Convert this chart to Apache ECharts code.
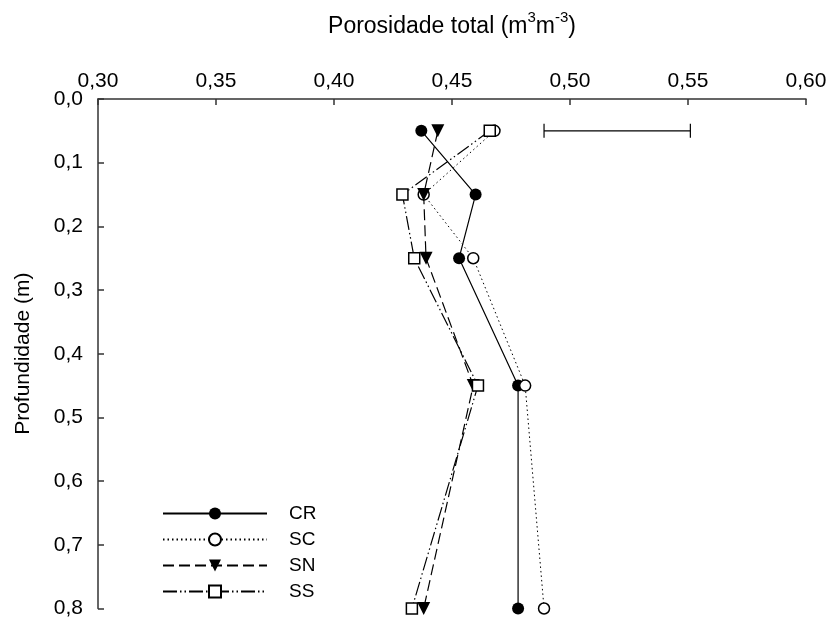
<!DOCTYPE html>
<html>
<head>
<meta charset="utf-8">
<script src="https://cdn.jsdelivr.net/npm/echarts@6/dist/echarts.min.js"></script>
<style>html,body{margin:0;padding:0;background:#fff}#c{width:834px;height:619px}</style>
</head>
<body>
<div id="c"></div>
<script>
var depths = [0.05, 0.15, 0.25, 0.45, 0.80];
var CR = [0.437, 0.460, 0.453, 0.478, 0.478];
var SC = [0.468, 0.438, 0.459, 0.481, 0.489];
var SN = [0.444, 0.438, 0.439, 0.459, 0.438];
var SS = [0.466, 0.429, 0.434, 0.461, 0.433];
var errorBar = [0.05, 0.489, 0.551]; // depth, low, high
var xTicks = {min: 0.30, max: 0.60, interval: 0.05};
var yTicks = {min: 0.0, max: 0.8, interval: 0.1};

function pairs(vals) { return vals.map(function (v, i) { return [v, depths[i]]; }); }

var FONT = 'Liberation Sans';
var chart = echarts.init(document.getElementById('c'), null, {renderer: 'canvas'});

function lineSeries(name, vals, lineType, symbol, filled, size, rotate) {
  return {
    name: name,
    type: 'line',
    data: pairs(vals),
    symbol: symbol,
    symbolSize: size,
    symbolRotate: rotate || 0,
    showSymbol: true,
    lineStyle: {color: '#000', width: lineType === 'dotted' ? 1 : 1.2, type: lineType === 'dotted' ? [1.5, 3] : lineType},
    itemStyle: {color: filled ? '#000' : '#fff', borderColor: '#000', borderWidth: filled ? 0 : 1.5},
    emphasis: {disabled: true},
    z: 3
  };
}

var option = {
  animation: false,
  backgroundColor: '#fff',
  grid: {left: 98, top: 99, right: 28, bottom: 10, containLabel: false},
  legend: {
    orient: 'vertical',
    left: 162,
    top: 504,
    padding: 0,
    itemWidth: 104,
    itemHeight: 15,
    itemGap: 7,
    selectedMode: false,
    textStyle: {fontFamily: FONT, fontSize: 19, lineHeight: 18, color: '#000', padding: [0, 0, 0, 17]},
    data: ['CR', 'SC', 'SN', 'SS']
  },
  xAxis: {
    type: 'value',
    position: 'top',
    min: xTicks.min, max: xTicks.max, interval: xTicks.interval,
    name: 'Porosidade total (m{sup|3}m{sup|-3})',
    nameLocation: 'middle',
    nameGap: 55,
    nameTextStyle: {
      fontFamily: FONT, fontSize: 23, color: '#000', lineHeight: 34,
      rich: {sup: {fontFamily: FONT, fontSize: 15, color: '#000', verticalAlign: 'top', lineHeight: 18}}
    },
    axisLine: {show: true, lineStyle: {color: '#333', width: 1.5}},
    axisTick: {show: true, inside: true, length: 6, lineStyle: {color: '#333', width: 1.5}},
    axisLabel: {fontFamily: FONT, fontSize: 21, color: '#000', margin: 7,
      formatter: function (v) { return v.toFixed(2).replace('.', ','); }},
    splitLine: {show: false}
  },
  yAxis: {
    type: 'value',
    inverse: true,
    min: yTicks.min, max: yTicks.max, interval: yTicks.interval,
    name: 'Profundidade (m)',
    nameLocation: 'middle',
    nameGap: 64,
    nameRotate: 90,
    nameTextStyle: {fontFamily: FONT, fontSize: 21, color: '#000'},
    axisLine: {show: true, lineStyle: {color: '#333', width: 1.5}},
    axisTick: {show: true, inside: true, length: 6, lineStyle: {color: '#333', width: 1.5}},
    axisLabel: {fontFamily: FONT, fontSize: 21, color: '#000', margin: 15,
      formatter: function (v) { return v.toFixed(1).replace('.', ','); }},
    splitLine: {show: false}
  },
  series: [
    lineSeries('CR', CR, 'solid', 'circle', true, 12),
    lineSeries('SC', SC, 'dotted', 'circle', false, 11),
    lineSeries('SN', SN, [11, 5], 'triangle', true, 13, 180),
    lineSeries('SS', SS, [14, 3, 1.5, 3, 1.5, 3], 'rect', false, 11),
    {
      type: 'custom',
      name: 'err',
      data: [[errorBar[1], errorBar[0], errorBar[2]]],
      renderItem: function (params, api) {
        var p1 = api.coord([api.value(0), api.value(1)]);
        var p2 = api.coord([api.value(2), api.value(1)]);
        var h = 7;
        var st = {stroke: '#000', lineWidth: 1.2};
        return {
          type: 'group',
          children: [
            {type: 'line', shape: {x1: p1[0], y1: p1[1], x2: p2[0], y2: p2[1]}, style: st},
            {type: 'line', shape: {x1: p1[0], y1: p1[1] - h, x2: p1[0], y2: p1[1] + h}, style: st},
            {type: 'line', shape: {x1: p2[0], y1: p2[1] - h, x2: p2[0], y2: p2[1] + h}, style: st}
          ]
        };
      },
      silent: true,
      z: 2
    }
  ]
};
chart.setOption(option);
</script>
</body>
</html>
